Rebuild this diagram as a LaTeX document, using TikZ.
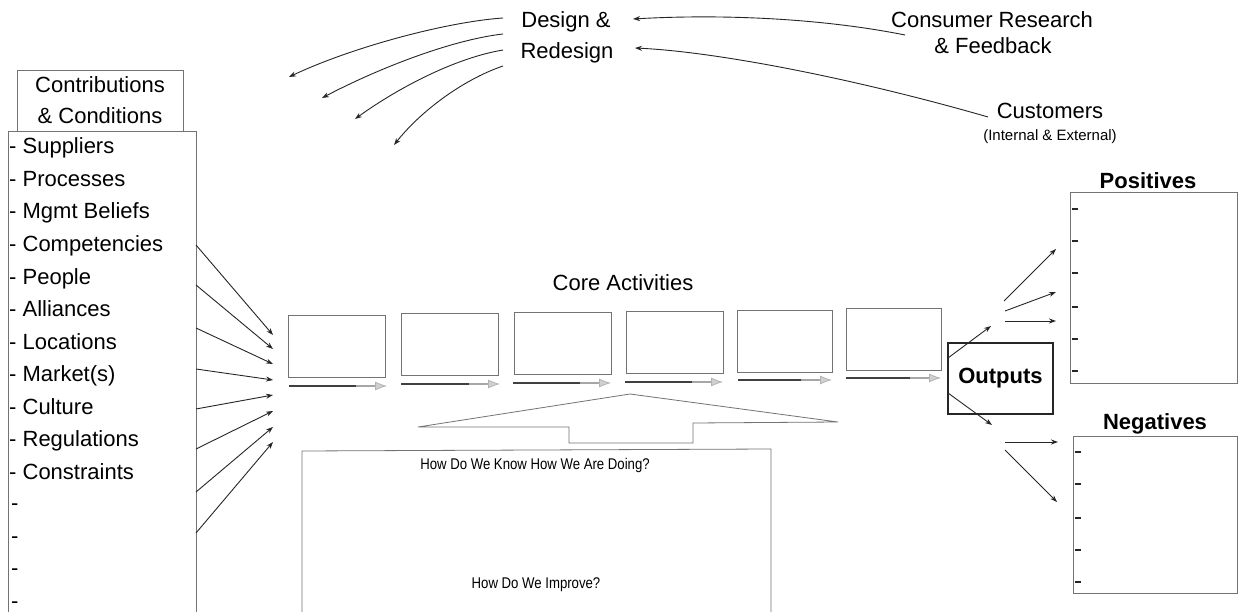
\documentclass[tikz,border=0pt]{standalone}
\usepackage{fontspec}
\setmainfont{Liberation Sans}
\newfontfamily\narrowfont[FakeStretch=0.85]{Liberation Sans}
\usetikzlibrary{arrows.meta,calc}
\begin{document}
\begin{tikzpicture}[x=1pt,y=-1pt,
  frame/.style={draw=black!55, line width=0.8pt},
  arr/.style={-{Stealth[length=7pt,width=5pt]}, line width=0.9pt, draw=black!85},
  txt/.style={inner sep=0pt, font=\fontsize{22}{31}\selectfont, text height=15.5pt, text depth=4.5pt},
  btxt/.style={inner sep=0pt, font=\fontsize{22}{31}\selectfont\bfseries, text height=15.5pt, text depth=4.5pt},
  stxt/.style={inner sep=0pt, font=\fontsize{15}{18}\selectfont, text height=10.5pt, text depth=3pt},
  ntxt/.style={inner sep=0pt, font=\fontsize{15.5}{18}\narrowfont, text height=10.5pt, text depth=3pt},
  item/.style={inner sep=0pt, anchor=base west, font=\fontsize{22}{31}\selectfont},
  actbox/.style={frame, minimum width=97pt, minimum height=62pt, anchor=north west, inner sep=0pt},
  tick/.style={line width=1.5pt, draw=black!85},
  flowline/.style={line width=1.7pt, draw=black!75},
  flowfade/.style={line width=1.5pt, draw=black!35},
  flowhead/.style={line width=0.8pt, draw=black!30, fill=black!18, -{Latex[length=12pt,width=9pt,fill=black!18]}}
]
\useasboundingbox (0,0) rectangle (1239,612);
\fill[white] (0,0) rectangle (1239,612);

% ---------- top texts ----------
\node[txt] (design1) at (566,22) {Design \&};
\node[txt] (design2) at (567,53) {Redesign};
\node[txt] (cons1) at (992,22) {Consumer Research};
\node[txt] (cons2) at (993,48) {\& Feedback};
\node[txt] (cust1) at (1050,113) {Customers};
\node[stxt] (cust2) at (1050,137) {(Internal \& External)};

% incoming arrows to design
\coordinate (cs) at (905,35);
\coordinate (ct) at (633,19);
\coordinate (us) at (988,117);
\coordinate (ut) at (635,48);
\draw[arr] (cs) .. controls (820,18) and (720,14) .. (ct);
\draw[arr] (us) .. controls (860,80) and (720,52) .. (ut);

% outgoing curved arrows
\coordinate (d1) at (503,18);  \coordinate (e1) at (289,77);
\coordinate (d2) at (503,34);  \coordinate (e2) at (322,98);
\coordinate (d3) at (503,50);  \coordinate (e3) at (355,119);
\coordinate (d4) at (503,66);  \coordinate (e4) at (394,145);
\draw[arr] (d1) .. controls (445,22) and (350,48) .. (e1);
\draw[arr] (d2) .. controls (450,40) and (375,70) .. (e2);
\draw[arr] (d3) .. controls (455,58) and (398,88) .. (e3);
\draw[arr] (d4) .. controls (462,80) and (420,112) .. (e4);

% ---------- contributions ----------
\node[frame, minimum width=166pt, minimum height=61pt, align=center, inner sep=0pt,
      font=\fontsize{22}{31}\selectfont] (hdr) at (100,100.5) {Contributions\\\& Conditions};
\draw[frame] (8,612) -- (8,131) -- (196,131) -- (196,612);

\foreach \t [count=\i from 0] in {Suppliers,Processes,Mgmt Beliefs,Competencies,People,Alliances,Locations,Market(s),Culture,Regulations,Constraints} {
  \node[item] (li\i) at (9,{154+32.5*\i}) {- \t};
}
\foreach \i in {11,12,13,14} {
  \node[item] (li\i) at (11,{153+32.5*\i}) {-};
}

% arrows from list to activities
\foreach \i/\ys/\ye in {1/245/335, 2/285/349, 3/328/364, 4/369/380, 5/409/395, 6/449/411, 7/492/427, 8/533/442} {
  \coordinate (ls\i) at (196,\ys);
  \coordinate (le\i) at (273,\ye);
  \draw[arr] (ls\i) -- (le\i);
}

% ---------- core activities ----------
\node[txt] (core) at (623,285) {Core Activities};
\node[actbox] (b1) at (288,315) {};
\node[actbox] (b2) at (401,313) {};
\node[actbox] (b3) at (514,312) {};
\node[actbox] (b4) at (626,311) {};
\node[actbox, minimum width=95pt] (b5) at (737,310) {};
\node[actbox, minimum width=95pt] (b6) at (846,308) {};

\foreach \i/\xa/\xb/\yy in {1/289/387/386, 2/401/500/384, 3/513/611/383, 4/625/723/382, 5/738/832/380, 6/846/941/378} {
  \coordinate (fs\i) at (\xa,\yy);
  \coordinate (fe\i) at (\xb,\yy);
  \draw[flowline] (fs\i) -- ($(fe\i)+(-30,0)$);
  \draw[flowfade] ($(fe\i)+(-31,0)$) -- ($(fe\i)+(-12,0)$);
  \draw[flowhead] ($(fe\i)+(-13,0)$) -- (fe\i);
}

% up arrow callout
\coordinate (ua) at (630,394);
\coordinate (ul) at (418,427);
\coordinate (ur) at (838,422);
\draw[frame] (ul) -- (ua) -- (ur) -- (693,423) -- (693,443) -- (569,443) -- (569,427) -- cycle;

% feedback box
\draw[frame] (302,612) -- (302,451) -- (771,449) -- (771,612);
\node[ntxt] (know) at (535,466) {How Do We Know How We Are Doing?};
\node[ntxt] (impr) at (536,585) {How Do We Improve?};

% ---------- outputs ----------
\node[draw=black!85, line width=1.4pt, minimum width=105pt, minimum height=71pt, inner sep=0pt,
      font=\fontsize{22}{26}\selectfont\bfseries] (out) at (1000.5,378.5) {Outputs};
\coordinate (o1s) at (948,358); \coordinate (o1e) at (991,326);
\coordinate (o2s) at (948,393); \coordinate (o2e) at (992,425);
\draw[arr] (o1s) -- (o1e);
\draw[arr] (o2s) -- (o2e);

\coordinate (pa1) at (1004,301); \coordinate (pb1) at (1056,249);
\coordinate (pa2) at (1005,311); \coordinate (pb2) at (1056,292);
\coordinate (pa3) at (1005,321); \coordinate (pb3) at (1056,321);
\coordinate (na1) at (1005,442); \coordinate (nb1) at (1058,442);
\coordinate (na2) at (1005,450); \coordinate (nb2) at (1057,502);
\draw[arr] (pa1) -- (pb1);
\draw[arr] (pa2) -- (pb2);
\draw[arr] (pa3) -- (pb3);
\draw[arr] (na1) -- (nb1);
\draw[arr] (na2) -- (nb2);

% positives / negatives
\node[btxt] (postitle) at (1148,183) {Positives};
\node[frame, anchor=north west, minimum width=167pt, minimum height=191pt, inner sep=0pt] (pos) at (1070,192) {};
\foreach \y in {209,241,273,307,339,371} { \draw[tick] (1072,\y) -- (1078,\y); }

\node[btxt] (negtitle) at (1155,424) {Negatives};
\node[frame, anchor=north west, minimum width=164pt, minimum height=157pt, inner sep=0pt] (neg) at (1073,436) {};
\foreach \y in {452,484,518,550,582} { \draw[tick] (1075,\y) -- (1081,\y); }
\end{tikzpicture}
\end{document}
